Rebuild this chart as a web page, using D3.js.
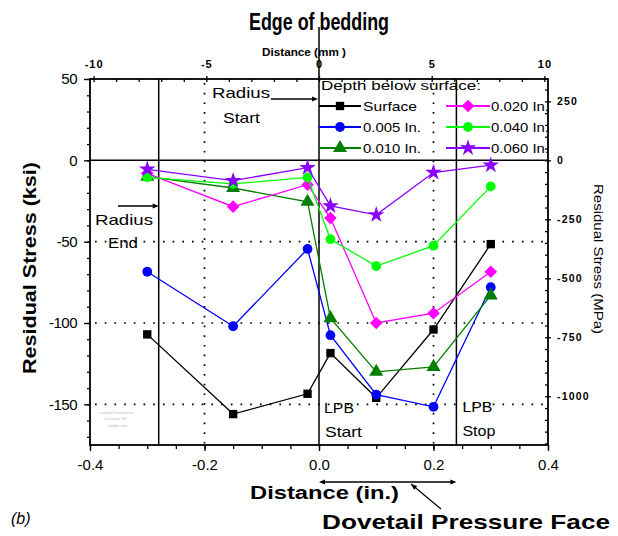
<!DOCTYPE html>
<html><head><meta charset="utf-8">
<script src="https://cdn.jsdelivr.net/npm/d3@7"></script>
<style>
html,body{margin:0;padding:0;background:#fff;}
svg{display:block;}
text{font-family:"Liberation Sans Narrow","Arial Narrow","Liberation Sans",Arial,sans-serif;}
</style></head>
<body>
<svg id="chart" width="618" height="536"></svg>
<script>
// ---------------- data ----------------
const xPositions = [-0.3, -0.15, -0.02, 0.02, 0.1, 0.2, 0.3];
const surface   = [-107, -156, -143.5, -118.5, -146, -104, -51.5];
const depth005  = [-68.5, -102, -54.5, -107.5, -144, -151.5, -78];
const depth010  = [-10, -17, -25.5, -97, -130, -127, -83];
const depth020  = [-8, -28.5, -15, -35.5, -100, -94, -68.5];
const depth040  = [-10.5, -14.5, -10.5, -48.5, -65, -52.5, -16];
const depth060  = [-5.5, -12.5, -4.5, -28, -33.5, -7.5, -3];
const seriesNames = ["Surface", "0.005 In.", "0.010 In.", "0.020 In.", "0.040 In.", "0.060 In."];
const seriesColors = ["#000000", "#0000ff", "#007f00", "#ff00ff", "#00ff00", "#8a00ff"];
const seriesSymbols = ["square", "circle", "triangle", "diamond", "circle", "star"];
const seriesValues = [surface, depth005, depth010, depth020, depth040, depth060];

const xTicksIn = [-0.4, -0.2, 0.0, 0.2, 0.4];
const yTicksKsi = [50, 0, -50, -100, -150];
const xTicksMm = [-10, -5, 0, 5, 10];
const yTicksMPa = [250, 0, -250, -500, -750, -1000];
const gridX = [-0.2, 0.2];
const gridY = [-50, -100, -150];
const markerLinesX = [-0.28, 0.0, 0.24]; // Radius end, edge of bedding, LPB stop

// ---------------- setup ----------------
const svg = d3.select("#chart");
const L = 90, R = 548, T = 79, B = 445;
const x = d3.scaleLinear().domain([-0.4, 0.4]).range([L, R]);
const y = d3.scaleLinear().domain([-175, 50]).range([B, T]);
const xmm = d3.scaleLinear().domain([-0.4 * 25.4, 0.4 * 25.4]).range([L, R]);
const yMPa = d3.scaleLinear().domain([-175 * 6.895, 50 * 6.895]).range([B, T]);
const hy = v => (v < 0 ? "-" : "") + Math.abs(v);

// grid (dotted)
const grid = svg.append("g").attr("stroke", "#000").attr("stroke-width", 1.7)
  .attr("stroke-dasharray", "1.7,8").attr("stroke-linecap", "butt");
grid.selectAll("line.gx").data(gridX).join("line")
  .attr("x1", d => x(d)).attr("x2", d => x(d)).attr("y1", T + 4).attr("y2", B);
grid.selectAll("line.gy").data(gridY).join("line")
  .attr("x1", L + 5).attr("x2", R).attr("y1", d => y(d)).attr("y2", d => y(d));

// solid reference lines
const ref = svg.append("g").attr("stroke", "#000").attr("stroke-width", 1.5);
ref.append("line").attr("x1", L).attr("x2", R).attr("y1", y(0)).attr("y2", y(0));
ref.selectAll("line.v").data(markerLinesX).join("line")
  .attr("x1", d => x(d)).attr("x2", d => x(d))
  .attr("y1", d => d === 0 ? 27 : T).attr("y2", B);

// frame
svg.append("rect").attr("x", L).attr("y", T).attr("width", R - L).attr("height", B - T)
  .attr("fill", "none").attr("stroke", "#000").attr("stroke-width", 1.8);

// axes
function styleAxis(g) { g.select(".domain").remove(); g.selectAll("line").attr("stroke", "#000").attr("stroke-width", 1.3); }
// left
svg.append("g").attr("transform", `translate(${L},0)`)
  .call(d3.axisLeft(y).tickValues(d3.range(-170, 51, 10)).tickSize(3).tickFormat("")).call(styleAxis);
const la = svg.append("g").attr("transform", `translate(${L},0)`)
  .call(d3.axisLeft(y).tickValues(yTicksKsi).tickSize(6).tickPadding(7).tickFormat(hy)).call(styleAxis);
la.selectAll("text").attr("font-family", "Liberation Sans, Arial, sans-serif").attr("font-size", 15).attr("letter-spacing", "-0.5");
// bottom
svg.append("g").attr("transform", `translate(0,${B})`)
  .call(d3.axisBottom(x).tickValues(d3.range(-0.4, 0.401, 0.05)).tickSize(4).tickFormat("")).call(styleAxis);
const ba = svg.append("g").attr("transform", `translate(0,${B})`)
  .call(d3.axisBottom(x).tickValues(xTicksIn).tickSize(6).tickPadding(8).tickFormat(d => (d < 0 ? "-" : "") + Math.abs(d).toFixed(1))).call(styleAxis);
ba.selectAll("text").attr("font-family", "Liberation Sans, Arial, sans-serif").attr("font-size", 15);
// top (mm)
svg.append("g").attr("transform", `translate(0,${T})`)
  .call(d3.axisBottom(xmm).tickValues(d3.range(-10, 10.1, 1)).tickSize(3).tickFormat("")).call(styleAxis);
const ta = svg.append("g").attr("transform", `translate(0,${T})`)
  .call(d3.axisTop(xmm).tickValues(xTicksMm).tickSize(3).tickPadding(8).tickFormat(hy)).call(styleAxis);
ta.selectAll("text").attr("font-size", 11).attr("font-weight", "bold").attr("letter-spacing", "1");
// right (MPa)
svg.append("g").attr("transform", `translate(${R},0)`)
  .call(d3.axisLeft(yMPa).tickValues(d3.range(-1200, 345, 50)).tickSize(3).tickFormat("")).call(styleAxis);
const ra = svg.append("g").attr("transform", `translate(${R},0)`)
  .call(d3.axisRight(yMPa).tickValues(yTicksMPa).tickSize(3).tickPadding(6).tickFormat(hy)).call(styleAxis);
ra.selectAll("text").attr("font-size", 10.5).attr("font-weight", "bold").attr("letter-spacing", "1.2");

// symbols
const diamond = { draw(ctx, size) { const r = Math.sqrt(size / 2); ctx.moveTo(0, -r); ctx.lineTo(r, 0); ctx.lineTo(0, r); ctx.lineTo(-r, 0); ctx.closePath(); } };
const symMap = { square: d3.symbolSquare, circle: d3.symbolCircle, triangle: d3.symbolTriangle, diamond: diamond, star: d3.symbolStar };
const symSize = { square: 70, circle: 75, triangle: 85, diamond: 80, star: 85 };
const line = d3.line().x(d => x(d[0])).y(d => y(d[1]));

seriesValues.forEach((vals, i) => {
  const pts = xPositions.map((xv, j) => [xv, vals[j]]);
  const g = svg.append("g");
  g.append("path").attr("d", line(pts)).attr("fill", "none").attr("stroke", seriesColors[i]).attr("stroke-width", 1.3);
  g.selectAll("path.m").data(pts).join("path")
    .attr("transform", d => `translate(${x(d[0])},${y(d[1])})`)
    .attr("d", d3.symbol(symMap[seriesSymbols[i]], symSize[seriesSymbols[i]])())
    .attr("fill", seriesColors[i]);
});

// legend
const lg = svg.append("g");
lg.append("text").attr("x", 321).attr("y", 90).attr("font-size", 12).attr("textLength", 160)
  .attr("lengthAdjust", "spacingAndGlyphs").text("Depth below surface:");
const legCols = [{ x1: 319, x2: 361, tx: 363 }, { x1: 446, x2: 490, tx: 491 }];
const legRows = [106, 127, 148];
seriesNames.forEach((name, i) => {
  const c = legCols[Math.floor(i / 3)], ry = legRows[i % 3];
  lg.append("line").attr("x1", c.x1).attr("x2", c.x2).attr("y1", ry).attr("y2", ry)
    .attr("stroke", seriesColors[i]).attr("stroke-width", 1.8);
  lg.append("path").attr("transform", `translate(${(c.x1 + c.x2) / 2},${ry})`)
    .attr("d", d3.symbol(symMap[seriesSymbols[i]], symSize[seriesSymbols[i]])()).attr("fill", seriesColors[i]);
  lg.append("text").attr("x", c.tx).attr("y", ry + 5).attr("font-size", 13)
    .attr("textLength", i === 0 ? 54 : 58).attr("lengthAdjust", "spacingAndGlyphs").text(name);
});

// titles
svg.append("text").attr("x", x(0)).attr("y", 30).attr("text-anchor", "middle")
  .attr("font-size", 23).attr("font-weight", "bold").attr("textLength", 140).attr("lengthAdjust", "spacingAndGlyphs")
  .text("Edge of bedding");
svg.append("text").attr("x", 262).attr("y", 56).attr("font-size", 11.5).attr("font-weight", "bold")
  .attr("textLength", 84).attr("lengthAdjust", "spacingAndGlyphs").text("Distance (mm )");
svg.append("text").attr("transform", "translate(36,268) rotate(-90)").attr("text-anchor", "middle")
  .attr("font-size", 19).attr("font-weight", "bold").attr("font-family", "Liberation Sans, Arial, sans-serif")
  .attr("textLength", 212).attr("lengthAdjust", "spacingAndGlyphs").text("Residual Stress (ksi)");
svg.append("text").attr("transform", "translate(594,259) rotate(90)").attr("text-anchor", "middle")
  .attr("font-size", 12.5).attr("textLength", 150).attr("lengthAdjust", "spacingAndGlyphs").text("Residual Stress (MPa)");
svg.append("text").attr("x", 250).attr("y", 499).attr("font-size", 18).attr("font-weight", "bold")
  .attr("font-family", "Liberation Sans, Arial, sans-serif")
  .attr("textLength", 149).attr("lengthAdjust", "spacingAndGlyphs").text("Distance (in.)");
svg.append("text").attr("x", 322).attr("y", 529).attr("font-size", 21).attr("font-weight", "bold")
  .attr("textLength", 288).attr("lengthAdjust", "spacingAndGlyphs").text("Dovetail Pressure Face");
svg.append("text").attr("x", 11).attr("y", 524).attr("font-size", 16).attr("font-style", "italic")
  .attr("font-family", "Liberation Sans, Arial, sans-serif").text("(b)");

// annotations
const ann = svg.append("g").attr("font-size", 15);
function label(tx, ty, s, w) {
  ann.append("text").attr("x", tx).attr("y", ty).attr("textLength", w).attr("lengthAdjust", "spacingAndGlyphs").text(s);
}
label(212, 98, "Radius", 58);
label(223, 123, "Start", 37);
label(95, 225, "Radius", 58);
label(108, 248, "End", 30);
label(x(0) + 5, 413, "LPB", 30);
label(x(0) + 6, 437, "Start", 37);
label(x(0.24) + 6, 412, "LPB", 30);
label(x(0.24) + 6, 436, "Stop", 33);

const arrows = svg.append("g").attr("stroke", "#000").attr("stroke-width", 1.5);
arrows.append("line").attr("x1", 271).attr("x2", x(0) - 4).attr("y1", 99).attr("y2", 99);
arrows.append("line").attr("x1", 118).attr("x2", x(-0.28) - 3).attr("y1", 206).attr("y2", 206);
arrows.append("line").attr("x1", x(0) + 3).attr("x2", x(0.24) - 3).attr("y1", 482).attr("y2", 482);
arrows.append("line").attr("x1", 411).attr("y1", 484).attr("x2", 441).attr("y2", 509).attr("stroke-width", 1.2);
const heads = [[x(0) - 1, 99, 0], [x(-0.28), 206, 0], [x(0.24), 482, 0], [x(0), 482, 180]];
heads.forEach(h => {
  svg.append("path").attr("transform", `translate(${h[0]},${h[1]}) rotate(${h[2]})`)
    .attr("d", "M0,0 L-6,-2.5 L-6,2.5 Z").attr("fill", "#000");
});
svg.append("path").attr("transform", "translate(411,484) rotate(220)").attr("d", "M0,0 L-6,-2.5 L-6,2.5 Z").attr("fill", "#000");

// faint watermark
const wm = svg.append("g").attr("fill", "#bbb").attr("font-size", 3.5).attr("font-family", "Liberation Sans, Arial, sans-serif");
wm.append("text").attr("x", 99).attr("y", 414).text("Lambda Research Inc.");
wm.append("text").attr("x", 104).attr("y", 420).text("Cincinnati, OH");
wm.append("text").attr("x", 108).attr("y", 427).text("lambda.com");
</script>
</body></html>
